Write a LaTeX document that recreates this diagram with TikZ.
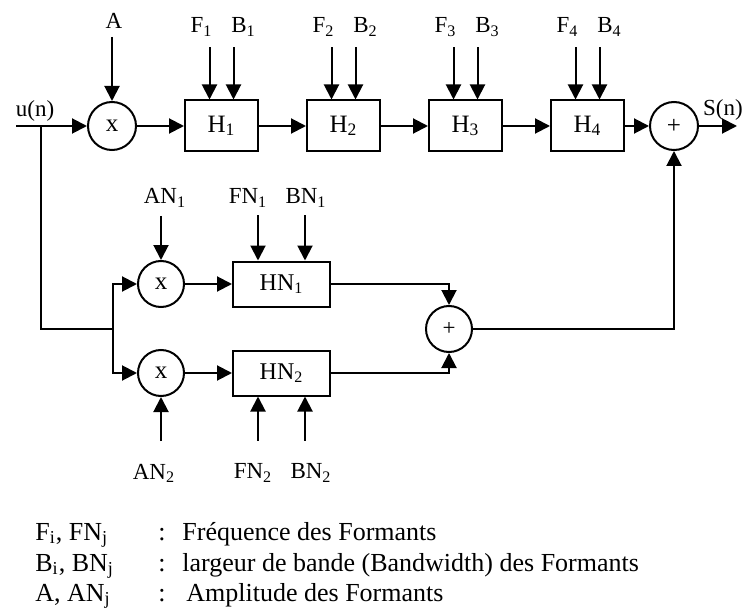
\documentclass[tikz,border=0pt]{standalone}
\usepackage{fontspec}
\setmainfont{Liberation Serif}
\usetikzlibrary{arrows.meta,positioning}

\begin{document}
\begin{tikzpicture}[
  x=0.5pt,y=-0.5pt,
  node distance=23.5pt,
  box/.style={draw,line width=1pt,minimum width=36.5pt,minimum height=25.5pt,inner sep=0pt,font=\fontsize{12.5}{14}\selectfont},
  boxN/.style={box,minimum width=48.5pt,minimum height=22.5pt,font=\fontsize{12}{14}\selectfont},
  op/.style={draw,circle,line width=1pt,minimum size=24pt,inner sep=0pt,font=\fontsize{12.5}{14}\selectfont},
  lbl/.style={inner sep=0pt,font=\fontsize{11.5}{13}\selectfont},
  leg/.style={inner sep=0pt,anchor=base west,font=\fontsize{13}{15}\selectfont},
  wire/.style={line width=1pt},
  arrow/.style={-{Triangle[length=7.5pt,width=7.5pt]},line width=1pt}
]
\useasboundingbox (0,0) rectangle (754,609);

% main branch
\coordinate (in) at (16,126);
\coordinate (split) at (41,126);
\node[op] (mul) at (112,126) {x};
\node[box,right=of mul] (H1) {H\textsubscript{1}};
\node[box,right=of H1] (H2) {H\textsubscript{2}};
\node[box,right=of H2] (H3) {H\textsubscript{3}};
\node[box,right=of H3] (H4) {H\textsubscript{4}};
\node[op,right=12pt of H4] (sum) {+};
\coordinate (out) at (737,126);
\node[lbl] (u) at (35,111) {u(n)};
\node[lbl] (s) at (723,110) {S(n)};
\draw[arrow] (in) -- (mul);
\draw[arrow] (mul) -- (H1);
\draw[arrow] (H1) -- (H2);
\draw[arrow] (H2) -- (H3);
\draw[arrow] (H3) -- (H4);
\draw[arrow] (H4) -- (sum);
\draw[arrow] (sum) -- (out);
\draw[arrow] ([yshift=32pt]mul.north) coordinate (Ain) -- (mul.north);
\node[lbl,anchor=base] (A) at ([xshift=1pt,yshift=4pt]Ain) {A};
\foreach \i in {1,...,4}{
  \draw[arrow] ([xshift=-6pt,yshift=26pt]H\i.north) coordinate (Fin\i) -- ([xshift=-6pt]H\i.north);
  \draw[arrow] ([xshift=6pt,yshift=26pt]H\i.north) coordinate (Bin\i) -- ([xshift=6pt]H\i.north);
  \node[lbl,anchor=base] (F\i) at ([xshift=-4pt,yshift=7.5pt]Fin\i) {F\textsubscript{\i}};
  \node[lbl,anchor=base] (B\i) at ([xshift=5pt,yshift=7.5pt]Bin\i) {B\textsubscript{\i}};
}

% noise branch
\coordinate (fork) at (113,329);
\node[op,minimum size=23pt] (mul1) at (161,284) {x};
\node[op,minimum size=23pt] (mul2) at (161,373) {x};
\node[boxN,right=of mul1] (HN1) {HN\textsubscript{1}};
\node[boxN,right=of mul2] (HN2) {HN\textsubscript{2}};
\node[op,minimum size=23pt,font=\fontsize{11.5}{13}\selectfont] (sum1) at (449,329) {+};
\draw[wire] (split) |- (fork);
\draw[arrow] (fork) |- (mul1);
\draw[arrow] (fork) |- (mul2);
\draw[arrow] (mul1) -- (HN1);
\draw[arrow] (mul2) -- (HN2);
\draw[arrow] (HN1) -| (sum1);
\draw[arrow] (HN2) -| (sum1);
\draw[arrow] (sum1) -| (sum);

\draw[arrow] ([yshift=22pt]mul1.north) coordinate (AN1in) -- (mul1.north);
\draw[arrow] ([xshift=-11.75pt,yshift=22.5pt]HN1.north) coordinate (FN1in) -- ([xshift=-11.75pt]HN1.north);
\draw[arrow] ([xshift=11.75pt,yshift=22.5pt]HN1.north) coordinate (BN1in) -- ([xshift=11.75pt]HN1.north);
\node[lbl,anchor=base] (AN1) at ([xshift=2pt,yshift=6pt]AN1in) {AN\textsubscript{1}};
\node[lbl,anchor=base] (FN1) at ([xshift=-5pt,yshift=6pt]FN1in) {FN\textsubscript{1}};
\node[lbl,anchor=base] (BN1) at ([xshift=0.5pt,yshift=6pt]BN1in) {BN\textsubscript{1}};

\draw[arrow] ([yshift=-22pt]mul2.south) coordinate (AN2in) -- (mul2.south);
\draw[arrow] ([xshift=-11.75pt,yshift=-22pt]HN2.south) coordinate (FN2in) -- ([xshift=-11.75pt]HN2.south);
\draw[arrow] ([xshift=11.75pt,yshift=-22pt]HN2.south) coordinate (BN2in) -- ([xshift=11.75pt]HN2.south);
\node[lbl,anchor=base] (AN2) at ([xshift=-3.5pt,yshift=-19pt]AN2in) {AN\textsubscript{2}};
\node[lbl,anchor=base] (FN2) at ([xshift=-2.5pt,yshift=-19pt]FN2in) {FN\textsubscript{2}};
\node[lbl,anchor=base] (BN2) at ([xshift=3pt,yshift=-19pt]BN2in) {BN\textsubscript{2}};

% legend
\node[leg] (k1) at (35,540) {F\textsubscript{i}, FN\textsubscript{j}};
\node[leg] (c1) at (158,540) {:};
\node[leg] (t1) at (182,540) {Fréquence des Formants};
\node[leg] (k2) at (35,571) {B\textsubscript{i}, BN\textsubscript{j}};
\node[leg] (c2) at (158,571) {:};
\node[leg] (t2) at (182,571) {largeur de bande (Bandwidth) des Formants};
\node[leg] (k3) at (35,601) {A, AN\textsubscript{j}};
\node[leg] (c3) at (158,601) {:};
\node[leg] (t3) at (186,601) {Amplitude des Formants};
\end{tikzpicture}
\end{document}
